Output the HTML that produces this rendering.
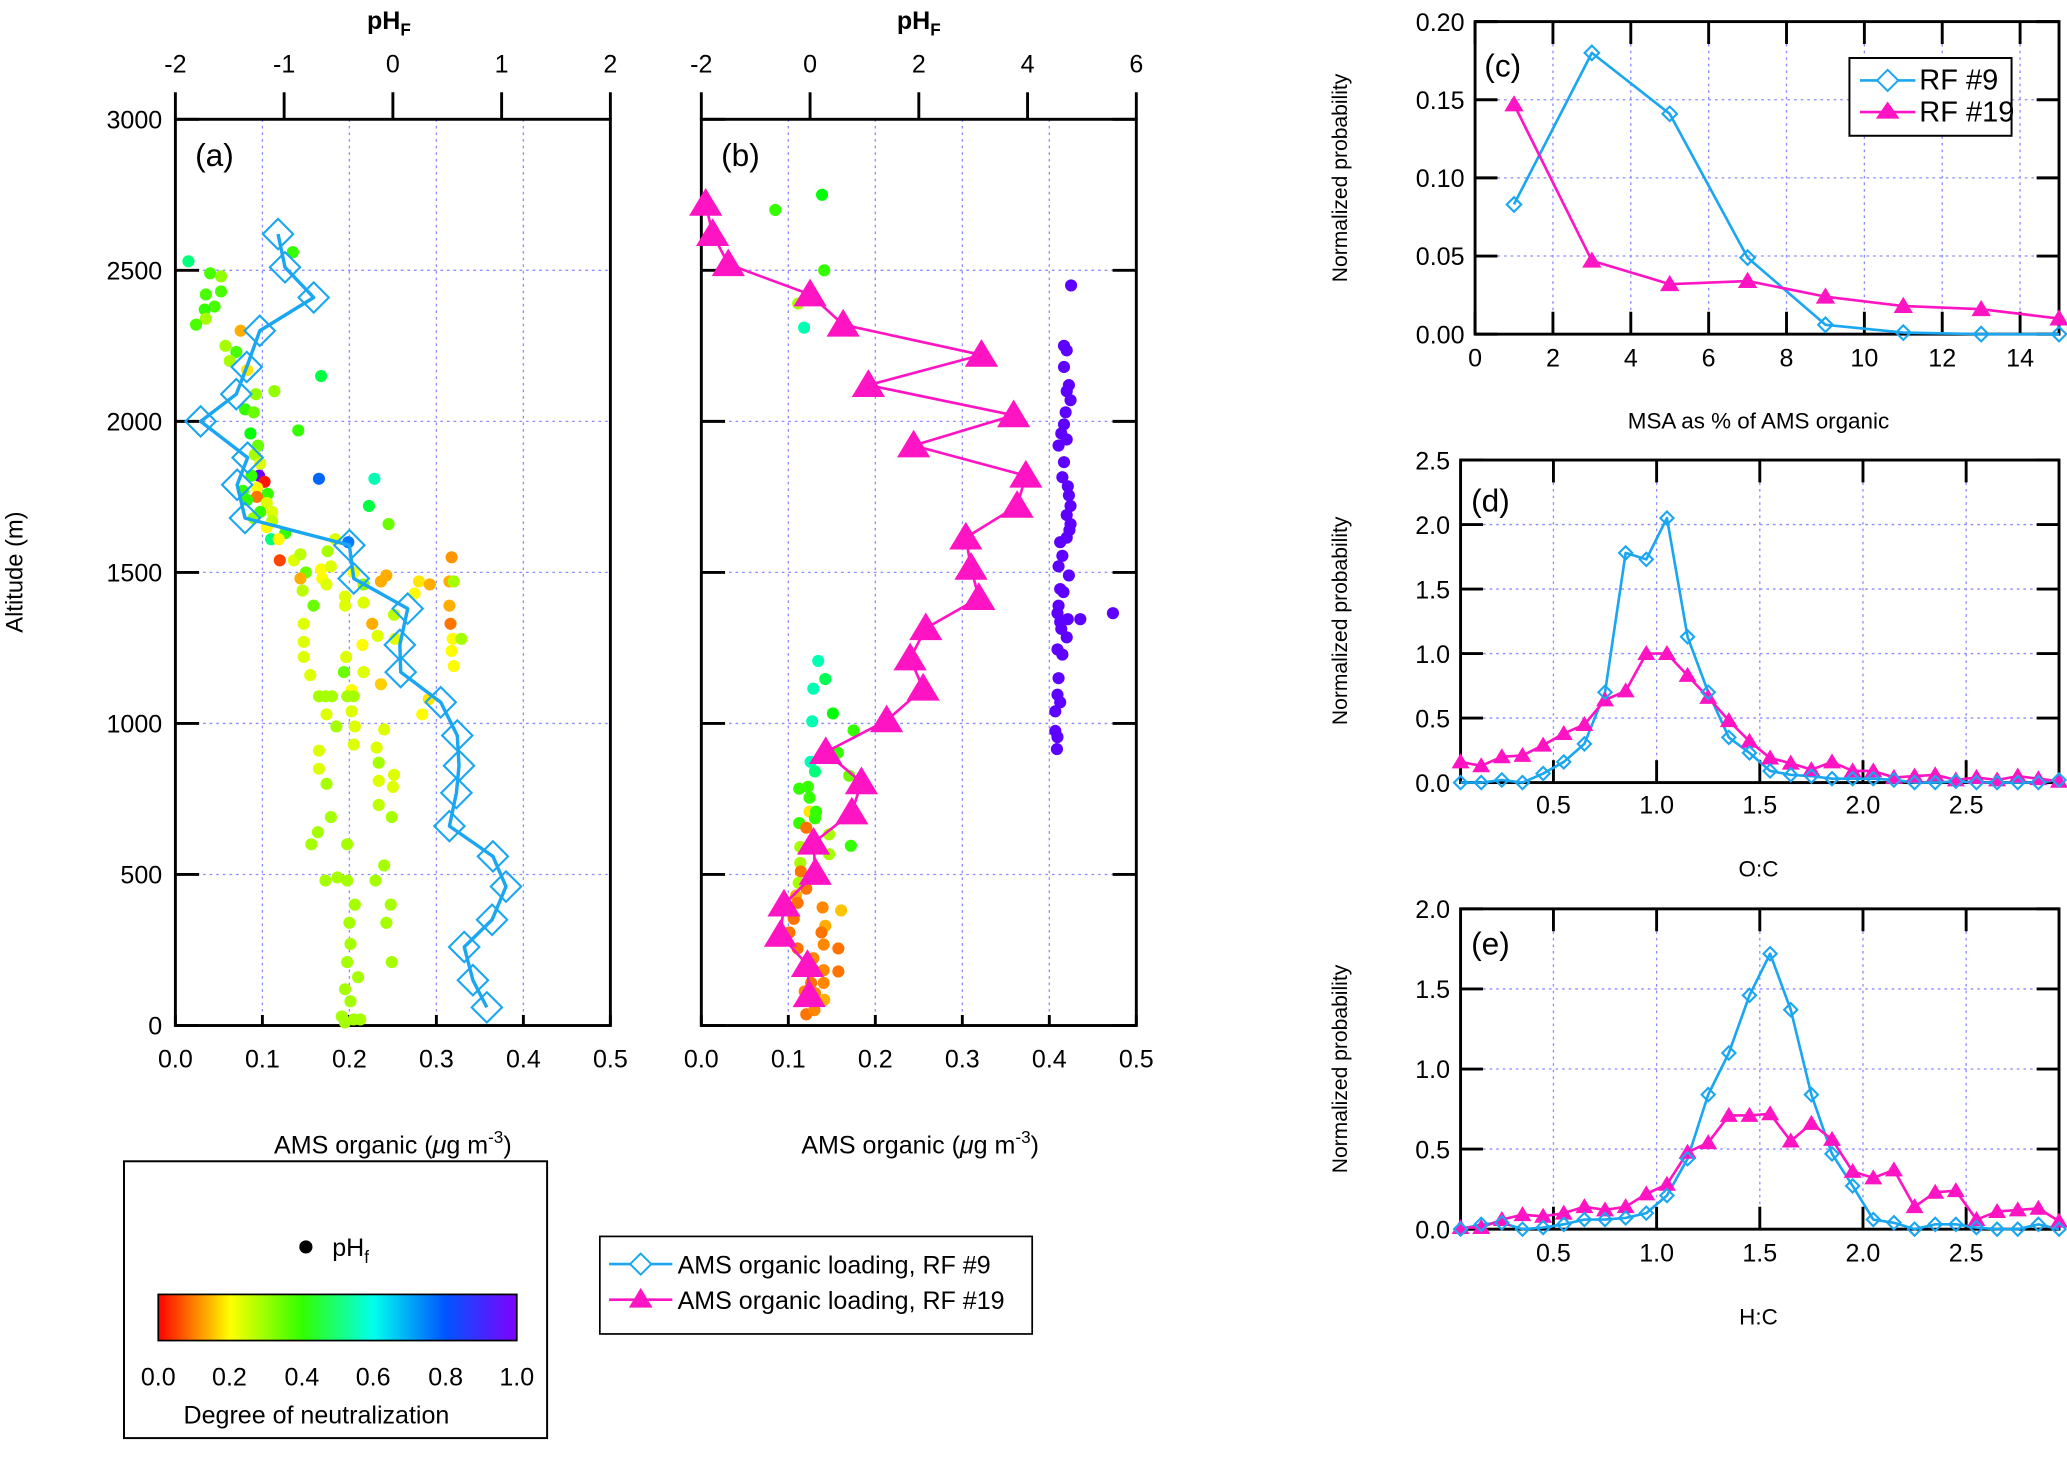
<!DOCTYPE html>
<html><head><meta charset="utf-8">
<style>
html,body{margin:0;padding:0;background:#fff;}
svg{display:block;}
text{font-family:"Liberation Sans",sans-serif;fill:#000;}
</style></head>
<body>
<svg id="fig" width="2067" height="1475" viewBox="0 0 1568 1119" xmlns="http://www.w3.org/2000/svg">
<defs>
<linearGradient id="rainbow" x1="0" x2="1" y1="0" y2="0">
<stop offset="0" stop-color="#ff0000"/><stop offset="0.2" stop-color="#ffff00"/><stop offset="0.4" stop-color="#33ff00"/><stop offset="0.6" stop-color="#00ffee"/><stop offset="0.8" stop-color="#0055ff"/><stop offset="1" stop-color="#8000ff"/>
</linearGradient>
</defs>
<g id="g"></g>
<text x="295" y="22" font-size="19" font-weight="bold" text-anchor="middle">pH<tspan font-size="13" dy="5">F</tspan></text>
<text x="697" y="22" font-size="19" font-weight="bold" text-anchor="middle">pH<tspan font-size="13" dy="5">F</tspan></text>
<text transform="translate(17,434) rotate(-90)" font-size="18" text-anchor="middle">Altitude (m)</text>
<text x="298" y="875" font-size="19" text-anchor="middle">AMS organic (<tspan font-style="italic">μ</tspan>g m<tspan font-size="13" dy="-8">-3</tspan><tspan dy="8">)</tspan></text>
<text x="698" y="875" font-size="19" text-anchor="middle">AMS organic (<tspan font-style="italic">μ</tspan>g m<tspan font-size="13" dy="-8">-3</tspan><tspan dy="8">)</tspan></text>
<text x="148" y="126" font-size="24">(a)</text>
<text x="547" y="126" font-size="24">(b)</text>
<text x="1126" y="58" font-size="24">(c)</text>
<text x="1116" y="388" font-size="24">(d)</text>
<text x="1116" y="724" font-size="24">(e)</text>
<text x="1334" y="325" font-size="17" text-anchor="middle">MSA as % of AMS organic</text>
<text x="1334" y="665" font-size="17" text-anchor="middle">O:C</text>
<text x="1334" y="1005" font-size="17" text-anchor="middle">H:C</text>
<text transform="translate(1022,135) rotate(-90)" font-size="16" text-anchor="middle">Normalized probability</text>
<text transform="translate(1022,471) rotate(-90)" font-size="16" text-anchor="middle">Normalized probability</text>
<text transform="translate(1022,811) rotate(-90)" font-size="16" text-anchor="middle">Normalized probability</text>
<g>
<rect x="1403" y="44" width="123" height="59" fill="#fff" stroke="#000" stroke-width="1.5"/>
<line x1="1411" y1="61" x2="1453" y2="61" stroke="#1aa6f0" stroke-width="2"/>
<polygon points="1432,53 1440,61 1432,69 1424,61" fill="#fff" stroke="#1aa6f0" stroke-width="1.5"/>
<text x="1456" y="68" font-size="22">RF #9</text>
<line x1="1411" y1="85" x2="1453" y2="85" stroke="#ff14c4" stroke-width="2"/>
<polygon points="1432,77 1441,90 1423,90" fill="#ff14c4"/>
<text x="1456" y="92" font-size="22">RF #19</text>
</g>
<g>
<rect x="455" y="938" width="328" height="74" fill="#fff" stroke="#000" stroke-width="1.3"/>
<line x1="462" y1="959" x2="510" y2="959" stroke="#1aa6f0" stroke-width="2"/>
<polygon points="486,951 494,959 486,967 478,959" fill="#fff" stroke="#1aa6f0" stroke-width="1.5"/>
<text x="514" y="966" font-size="19">AMS organic loading, RF #9</text>
<line x1="462" y1="986" x2="510" y2="986" stroke="#ff14c4" stroke-width="2"/>
<polygon points="486,977 495,992 477,992" fill="#ff14c4"/>
<text x="514" y="993" font-size="19">AMS organic loading, RF #19</text>
</g>
<g>
<rect x="94" y="881" width="321" height="210" fill="#fff" stroke="#000" stroke-width="1.5"/>
<circle cx="232" cy="946" r="5" fill="#000"/>
<text x="252" y="953" font-size="19">pH<tspan font-size="13" dy="5">f</tspan></text>
<rect x="120" y="982" width="272" height="35" fill="url(#rainbow)" stroke="#000" stroke-width="1.3"/>
<text x="120" y="1051" font-size="19" text-anchor="middle">0.0</text>
<text x="174" y="1051" font-size="19" text-anchor="middle">0.2</text>
<text x="229" y="1051" font-size="19" text-anchor="middle">0.4</text>
<text x="283" y="1051" font-size="19" text-anchor="middle">0.6</text>
<text x="338" y="1051" font-size="19" text-anchor="middle">0.8</text>
<text x="392" y="1051" font-size="19" text-anchor="middle">1.0</text>
<text x="240" y="1080" font-size="19" text-anchor="middle">Degree of neutralization</text>
</g>
</svg>
<script>
const aOrg=[0.118,0.126,0.159,0.097,0.082,0.07,0.029,0.083,0.071,0.08,0.2,0.205,0.267,0.258,0.259,0.305,0.324,0.326,0.323,0.315,0.365,0.38,0.364,0.332,0.342,0.358];
const aAlt=[2620,2510,2410,2300,2180,2090,2000,1880,1790,1680,1590,1480,1380,1260,1170,1070,960,860,770,660,560,460,350,260,150,60];
const aPH=[-1.88,-1.68,-1.58,-1.72,-1.58,-1.64,-1.73,-1.72,-1.81,-0.92,-1.40,-1.54,-1.44,-1.50,-1.34,-0.66,-1.26,-1.09,-1.36,-1.28,-0.87,-1.31,-1.24,-1.27,-1.22,-1.23,-1.18,-1.30,-1.25,-1.38,-1.15,-1.25,-1.34,-1.16,-1.22,-1.11,-1.28,-1.11,-1.16,-0.99,-1.12,-1.05,-0.68,-0.17,-0.22,-0.04,-1.04,-0.91,-0.85,-0.60,-0.53,-0.41,-0.66,-0.57,-0.80,-0.85,-0.65,-0.61,-0.83,-0.36,-0.27,-0.06,-0.11,0.24,0.34,0.20,0.54,0.52,0.56,-0.44,-0.44,-0.27,-0.73,0.01,-0.19,0.52,0.53,-0.82,-0.82,-0.14,0.02,-0.28,0.55,0.63,0.54,0.56,-0.82,-0.43,-0.45,-0.76,-0.27,-0.11,0.33,0.27,-0.38,-0.68,-0.62,-0.56,-0.42,-0.36,-0.61,-0.38,-0.52,-0.35,-0.08,-0.68,-0.36,-0.15,-0.13,-0.68,0.01,-0.13,-0.61,0.00,-0.13,-0.01,-0.57,-0.42,-0.08,-0.16,-0.62,-0.42,-0.02,-0.06,-0.35,-0.40,-0.39,-0.01,-0.42,-0.32,-0.44,-0.39,-0.47,-0.36,-0.30,-0.44,-0.51,-0.75,-0.69];
const aPHAlt=[2530,2490,2480,2420,2430,2380,2370,2340,2320,2560,2300,2250,2230,2200,2170,2150,2090,2100,2040,2030,1970,1960,1920,1890,1860,1820,1800,1820,1780,1770,1760,1750,1740,1730,1700,1700,1680,1670,1650,1630,1610,1610,1810,1810,1720,1660,1540,1540,1560,1570,1610,1600,1510,1520,1500,1480,1480,1460,1440,1500,1460,1490,1470,1470,1460,1430,1550,1470,1470,1420,1390,1400,1390,1360,1330,1390,1330,1330,1270,1290,1280,1260,1280,1280,1240,1190,1220,1220,1170,1160,1170,1130,1080,1030,1110,1090,1090,1090,1090,1090,1030,1040,990,990,980,910,930,920,870,850,830,810,800,790,730,690,690,600,530,480,480,480,400,340,400,340,270,210,210,160,120,80,30,20,20,10,490,600,640];
const aDN=[.55,.38,.32,.38,.38,.38,.4,.3,.38,.4,.15,.3,.38,.3,.2,.5,.32,.32,.4,.35,.4,.45,.35,.3,.25,.98,.02,.4,.22,.4,.4,.1,.4,.25,.4,.25,.32,.28,.22,.4,.55,.22,.8,.6,.5,.35,.06,.25,.28,.3,.25,.78,.22,.25,.35,.15,.22,.25,.28,.23,.32,.15,.15,.2,.15,.22,.13,.15,.3,.25,.25,.25,.35,.28,.15,.15,.1,.25,.25,.25,.25,.22,.22,.3,.22,.22,.25,.25,.35,.25,.25,.18,.2,.22,.22,.3,.3,.3,.3,.3,.25,.25,.3,.25,.25,.25,.25,.25,.3,.25,.25,.25,.3,.25,.28,.3,.3,.3,.3,.3,.3,.3,.3,.3,.3,.3,.3,.3,.3,.3,.3,.3,.3,.3,.3,.3,.3,.3,.3,.3];
const bOrg=[0.005,0.013,0.031,0.125,0.163,0.322,0.192,0.359,0.244,0.373,0.363,0.304,0.310,0.319,0.258,0.240,0.255,0.213,0.143,0.184,0.173,0.129,0.131,0.095,0.091,0.122,0.124];
const bAlt=[2720,2620,2520,2420,2320,2220,2120,2020,1920,1820,1720,1615,1515,1415,1315,1215,1115,1010,905,805,705,605,505,400,300,200,100];
const bPH=[-0.64,0.22,0.26,-0.22,-0.11,4.80,4.67,4.72,4.67,4.76,4.72,4.79,4.70,4.67,4.62,4.72,4.57,4.67,4.64,4.74,4.76,4.79,4.72,4.79,4.77,4.72,4.60,4.64,4.57,4.76,4.60,4.66,4.57,4.55,4.74,4.97,5.57,4.60,4.62,4.72,4.55,4.64,4.57,4.55,4.60,4.51,4.51,4.55,4.54,0.15,0.28,0.06,0.04,0.42,0.80,0.51,0.01,0.09,0.72,-0.20,-0.04,-0.01,-0.01,0.11,0.09,-0.20,-0.07,0.35,0.75,-0.18,0.35,-0.18,-0.17,-0.21,-0.07,-0.26,-0.23,0.23,0.57,-0.30,0.28,-0.38,0.21,0.25,-0.23,0.52,0.06,0.06,0.25,0.52,0.02,0.25,-0.10,0.09,0.26,0.05,-0.07,0.08];
const bPHAlt=[2700,2750,2500,2390,2310,2450,2250,2235,2180,2120,2100,2070,2030,1990,1960,1940,1920,1865,1815,1785,1755,1720,1690,1660,1640,1615,1600,1555,1520,1490,1445,1435,1390,1365,1345,1345,1365,1336,1313,1285,1245,1228,1150,1095,1070,1040,975,955,915,1207,1147,1115,1007,1033,977,903,873,841,827,784,790,754,708,708,686,670,655,633,595,591,567,538,510,472,453,430,406,391,381,353,330,308,308,268,255,255,223,185,183,179,141,141,113,107,85,79,37,51];
const bDN=[.4,.45,.4,.3,.6,.97,.97,.97,.97,.97,.97,.97,.97,.97,.97,.97,.97,.97,.97,.97,.97,.97,.97,.97,.97,.97,.97,.97,.97,.97,.97,.97,.97,.97,.97,.97,.97,.97,.97,.97,.97,.97,.97,.97,.97,.97,.97,.97,.97,.6,.52,.6,.6,.45,.4,.4,.6,.55,.35,.4,.4,.4,.2,.4,.4,.4,.1,.3,.4,.3,.3,.3,.1,.3,.1,.15,.1,.12,.17,.1,.15,.1,.1,.12,.1,.1,.12,.1,.12,.1,.1,.12,.12,.12,.15,.12,.1,.12];
const cX=[1,3,5,7,9,11,13,15];
const cRF9=[0.083,0.18,0.141,0.049,0.006,0.001,0,0];
const cRF19=[0.147,0.047,0.032,0.034,0.024,0.018,0.016,0.01];
const binX=[0.05,0.15,0.25,0.35,0.45,0.55,0.65,0.75,0.85,0.95,1.05,1.15,1.25,1.35,1.45,1.55,1.65,1.75,1.85,1.95,2.05,2.15,2.25,2.35,2.45,2.55,2.65,2.75,2.85,2.95];
const dRF9=[0,0,0.02,0,0.07,0.16,0.30,0.70,1.78,1.73,2.05,1.13,0.70,0.35,0.23,0.09,0.06,0.05,0.03,0.03,0.03,0.02,0,0,0.01,0,0,0,0,0.02];
const dRF19=[0.16,0.13,0.20,0.21,0.29,0.38,0.45,0.64,0.71,1.0,1.0,0.83,0.66,0.48,0.32,0.19,0.15,0.10,0.16,0.09,0.09,0.04,0.05,0.06,0.02,0.04,0.02,0.05,0.03,0.01];
const eRF9=[0,0.03,0.04,0,0.01,0.03,0.06,0.06,0.07,0.10,0.21,0.44,0.84,1.10,1.46,1.72,1.37,0.84,0.47,0.27,0.06,0.04,0,0.03,0.03,0.01,0,0,0.03,0];
const eRF19=[0.01,0.01,0.06,0.09,0.08,0.10,0.14,0.12,0.14,0.22,0.28,0.48,0.54,0.71,0.71,0.72,0.55,0.66,0.56,0.36,0.32,0.37,0.14,0.23,0.24,0.06,0.11,0.12,0.13,0.05];
const aBotTicks=[0,0.1,0.2,0.3,0.4,0.5];
const altTicks=[0,500,1000,1500,2000,2500,3000];
const aTopTicks=[-2,-1,0,1,2];
const bTopTicks=[-2,0,2,4,6];
const cXTicks=[0,2,4,6,8,10,12,14];
const cYTicks=[0,0.05,0.1,0.15,0.2];
const ratioTicks=[0.5,1,1.5,2,2.5];
const dYTicks=[0,0.5,1,1.5,2,2.5];
const eYTicks=[0,0.5,1,1.5,2];

const NS='http://www.w3.org/2000/svg';
const G=document.getElementById('g');
function mk(tag,at,parent){const e=document.createElementNS(NS,tag);for(const k in at)e.setAttribute(k,at[k]);(parent||G).appendChild(e);return e;}
const BLUE='#1aa6f0',PINK='#ff14c4',GRID='#8c8cff';
function lin(d0,d1,p0,p1){return v=>p0+(v-d0)/(d1-d0)*(p1-p0);}
function fmt(v,n){return v.toFixed(n);}
function frame(name,x0,x1,y0,y1){
  const r=mk('rect',{x:x0,y:y1,width:x1-x0,height:y0-y1,fill:'none',stroke:'#000','stroke-width':2.2});
  
  
}
function gridH(name,y,x0,x1){const l=mk('line',{x1:x0,x2:x1,y1:y,y2:y,stroke:GRID,'stroke-width':1,'stroke-dasharray':'2,3'});
  
  }
function gridV(name,x,y0,y1){const l=mk('line',{x1:x,x2:x,y1:y0,y2:y1,stroke:GRID,'stroke-width':1,'stroke-dasharray':'2,3'});
  
  }
function tick(name,x1,y1,x2,y2){const l=mk('line',{x1:x1,y1:y1,x2:x2,y2:y2,stroke:'#000','stroke-width':2.2});
  
  }
function label(name,x,y,s,anchor,size){const t=mk('text',{x:x,y:y,'font-size':size||19,'text-anchor':anchor||'middle'});t.textContent=s;
  
  }
function dnColor(d){return 'hsl('+Math.round(d*270)+',100%,50%)';}
function diamond(x,y,r,name){const p=mk('polygon',{points:x+','+(y-r)+' '+(x+r)+','+y+' '+x+','+(y+r)+' '+(x-r)+','+y,fill:'none',stroke:BLUE,'stroke-width':1.6});
  
  }
function tri(x,y,r,name){const p=mk('polygon',{points:(x)+','+(y-r)+' '+(x+r*1.05)+','+(y+r*0.75)+' '+(x-r*1.05)+','+(y+r*0.75),fill:PINK});
  
  }
function polyline(xs,ys,sx,sy,color,w,name){const p=mk('polyline',{points:xs.map((v,i)=>sx(v)+','+sy(ys[i])).join(' '),fill:'none',stroke:color,'stroke-width':w,'stroke-linejoin':'round'});
  
  }

const yAlt=lin(0,3000,778,90.5);
function profilePanel(p,x0,x1,topTicks,topMin,topMax){
  const xo=lin(0,0.5,x0,x1), xp=lin(topMin,topMax,x0,x1);
  altTicks.forEach(a=>{ if(a>0&&a<3000) gridH(p+'-alt',yAlt(a),x0+16,x1);});
  aBotTicks.forEach(v=>{ if(v>0&&v<0.5) gridV(p+'-org',xo(v),90.5,778);});
  frame(p,x0,x1,778,90.5);
  altTicks.forEach(a=>{tick(p+'-alt-left',x0,yAlt(a),x0+18,yAlt(a)); if(p==='panel-b') tick(p+'-alt-right',x1,yAlt(a),x1-18,yAlt(a));});
  aBotTicks.forEach(v=>{tick(p+'-org',xo(v),778,xo(v),770); label(p+'-org',xo(v),810,fmt(v,1));});
  topTicks.forEach(v=>{tick(p+'-ph',xp(v),90.5,xp(v),70); label(p+'-ph',xp(v),55,String(v));});
  return {xo,xp};
}
const PA=profilePanel('panel-a',133,463,aTopTicks,-2,2);
altTicks.forEach(a=>label('altitude',123,yAlt(a)+7,String(a),'end'));
const PB=profilePanel('panel-b',532,862,bTopTicks,-2,6);

aPH.forEach((v,i)=>{const c=mk('circle',{cx:PA.xp(v),cy:yAlt(aPHAlt[i]),r:4.6,fill:dnColor(aDN[i])});
  
  });
polyline(aOrg,aAlt,PA.xo,yAlt,BLUE,2.6,'panel-a-rf9-line');
aOrg.forEach((v,i)=>diamond(PA.xo(v),yAlt(aAlt[i]),11.5,'panel-a-rf9-marker'));

bPH.forEach((v,i)=>{const c=mk('circle',{cx:PB.xp(v),cy:yAlt(bPHAlt[i]),r:4.6,fill:dnColor(bDN[i])});
  
  });
polyline(bOrg,bAlt,PB.xo,yAlt,PINK,2,'panel-b-rf19-line');
bOrg.forEach((v,i)=>tri(PB.xo(v),yAlt(bAlt[i]),12,'panel-b-rf19-marker'));

function distPanel(p,x0,x1,xMin,xMax,xTicks,xDec,yMax,yTicks,yDec,y0,y1,xLabY,xs,s9,s19,mr){
  const sx=lin(xMin,xMax,x0,x1), sy=lin(0,yMax,y0,y1);
  yTicks.forEach(v=>{ if(v>0&&v<yMax) gridH(p+'-y',sy(v),x0+17,x1-17);});
  xTicks.forEach(v=>{ if(v>xMin&&v<xMax) gridV(p+'-x',sx(v),y1+17,y0-17);});
  frame(p,x0,x1,y0,y1);
  yTicks.forEach(v=>{tick(p+'-y-left',x0,sy(v),x0+17,sy(v)); tick(p+'-y-right',x1,sy(v),x1-17,sy(v)); label(p+'-y',x0-8,sy(v)+7,fmt(v,yDec),'end');});
  xTicks.forEach(v=>{tick(p+'-x-bottom',sx(v),y0,sx(v),y0-17); tick(p+'-x-top',sx(v),y1,sx(v),y1+17); label(p+'-x',sx(v),xLabY,fmt(v,xDec));});
  polyline(xs,s9,sx,sy,BLUE,2,p+'-rf9-line');
  polyline(xs,s19,sx,sy,PINK,2,p+'-rf19-line');
  s19.forEach((v,i)=>tri(sx(xs[i]),sy(v),mr+1.5,p+'-rf19-marker'));
  s9.forEach((v,i)=>diamond(sx(xs[i]),sy(v),mr,p+'-rf9-marker'));
}
distPanel('panel-c',1119,1562,0,15,cXTicks,0,0.2,cYTicks,2,253.5,16.4,278,cX,cRF9,cRF19,5.5);
distPanel('panel-d',1108,1562,0.05,2.95,ratioTicks,1,2.5,dYTicks,1,593.7,349,617,binX,dRF9,dRF19,5);
distPanel('panel-e',1108,1562,0.05,2.95,ratioTicks,1,2,eYTicks,1,932.5,689.5,957,binX,eRF9,eRF19,5);
</script>
</body></html>
